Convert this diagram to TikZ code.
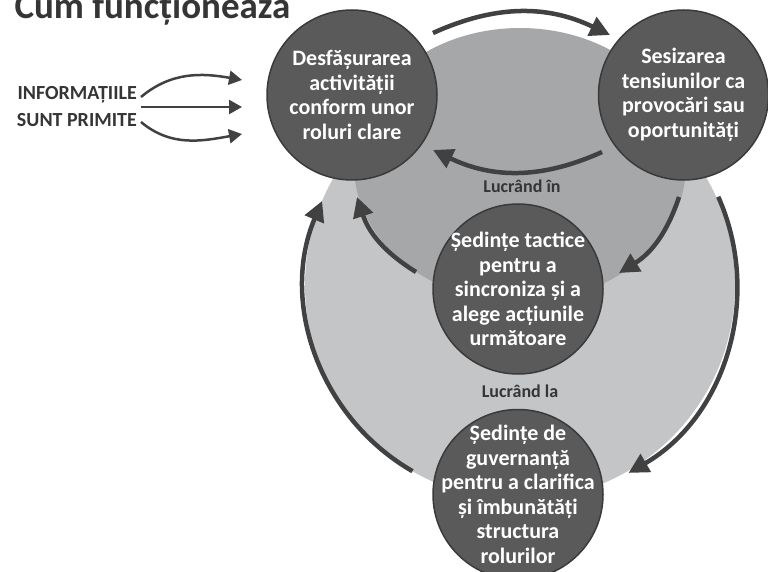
\documentclass[tikz,border=0pt]{standalone}
\usepackage{fontspec}
\setmainfont{Carlito}
\usetikzlibrary{positioning}
\usetikzlibrary{arrows.meta}
\definecolor{stagefill}{HTML}{5A5A5A}
\definecolor{stageline}{HTML}{3A3A3A}
\definecolor{arrowgray}{HTML}{414141}
\definecolor{textgray}{HTML}{353535}
\definecolor{outerzone}{HTML}{C4C5C7}
\definecolor{innerzone}{HTML}{A6A7A9}

\begin{document}
\begin{tikzpicture}
	[x=1pt,y=1pt,
	stage/.style={circle,draw=stageline,line width=1.5pt,fill=stagefill,text=white,minimum size=170pt,inner sep=-40pt,align=center,font=\bfseries\fontsize{22}{24.5}\selectfont},
	flow/.style={draw=arrowgray,line width=4.5pt,-{Triangle[length=20pt,width=20pt]}},
	feed/.style={draw=arrowgray,line width=2.5pt,-{Triangle[length=13pt,width=14pt]}},
	zonetext/.style={text=textgray,font=\bfseries\fontsize{18}{20}\selectfont}]
	\useasboundingbox (0,0) rectangle (768,571);
	\coordinate (hub) at (520,286);
	\fill[outerzone] (hub) circle[radius=215pt];
	\fill[innerzone] (520,406) ellipse[x radius=166pt,y radius=137pt];
	\node[stage] (act) at (352,476) {Desfășurarea\\activității\\conform unor\\roluri clare};
	\node[stage] (sense) [right=160pt of act] {Sesizarea\\tensiunilor ca\\provocări sau\\oportunități};
	\node[stage] (tact) at (518,282) {Ședințe tactice\\pentru a\\sincroniza și a\\alege acțiunile\\următoare};
	\node[stage] (gov) [below=34pt of tact] {Ședințe de\\guvernanță\\pentru a clarifica\\și îmbunătăți\\structura\\rolurilor};
	\node[zonetext,anchor=base] (inzone) at (522,378) {Lucrând în};
	\node[zonetext,anchor=base] (onzone) at (520,174) {Lucrând la};
	\node[text=textgray,anchor=base west,font=\bfseries\fontsize{37}{40}\selectfont] (title) at (11,552) {Cum funcționează};
	\node[text=textgray,anchor=east,align=right,inner sep=0pt,font=\bfseries\fontsize{20}{27}\selectfont] (info) at (137,464) {INFORMAȚIILE\\SUNT PRIMITE};
	% arrows
	\coordinate (t1) at (433,538);
	\coordinate (t2) at (610,536);
	\coordinate (it1) at (602,419);
	\coordinate (it2) at (433,421);
	\coordinate (il1) at (416,299);
	\coordinate (il2) at (357,374);
	\coordinate (ir1) at (679,374);
	\coordinate (ir2) at (619,298);
	\draw[flow] (t1) to[bend left=25] (t2);
	\draw[flow] (it1) to[bend left=25] (it2);
	\draw[flow] (il1) to[bend left=20] (il2);
	\draw[flow] (ir1) to[bend left=20] (ir2);
	\draw[flow] ([shift={(240:215pt)}]hub) arc[start angle=240,end angle=157,radius=215pt];
	\draw[flow] ([shift={(24:217pt)}]hub) arc[start angle=24,end angle=-60,radius=217pt];
	\coordinate (f1) at (141,474);
	\coordinate (f2) at (141,464);
	\coordinate (f3) at (141,449);
	\coordinate (g1) at (242,491);
	\coordinate (g2) at (242,464);
	\coordinate (g3) at (242,437);
	\draw[feed] (f1) to[out=40,in=170] (g1);
	\draw[feed] (f2) -- (g2);
	\draw[feed] (f3) to[out=-40,in=190] (g3);
\end{tikzpicture}
\end{document}
